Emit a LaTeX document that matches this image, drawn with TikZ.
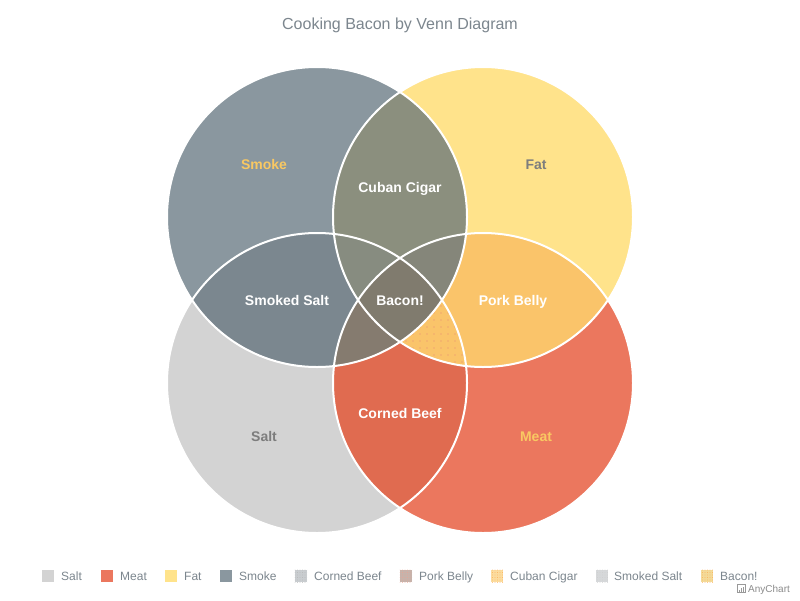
\documentclass[tikz,border=0pt]{standalone}
\usepackage{fontspec}
\setmainfont{Liberation Sans}
\usetikzlibrary{patterns.meta}
\definecolor{cSmoke}{HTML}{8A979F}
\definecolor{cFat}{HTML}{FFE38B}
\definecolor{cSalt}{HTML}{D3D3D3}
\definecolor{cMeat}{HTML}{EB775E}
\definecolor{cCuban}{HTML}{8B8F7E}
\definecolor{cSmokedSalt}{HTML}{7B878F}
\definecolor{cPork}{HTML}{FAC46A}
\definecolor{cCorned}{HTML}{E06B50}
\definecolor{cSFS}{HTML}{878C80}
\definecolor{cSFM}{HTML}{85867A}
\definecolor{cSSM}{HTML}{857B6F}
\definecolor{cBacon}{HTML}{807B6E}
\definecolor{cTitle}{HTML}{7C868E}
\definecolor{cDarkLbl}{HTML}{7D7D7D}
\definecolor{cYelLbl}{HTML}{F9C862}
\definecolor{lgCorned}{HTML}{C9CDD0}
\definecolor{lgPork}{HTML}{C7B3AB}
\definecolor{lgCuban}{HTML}{FBDC9E}
\definecolor{lgSmokedSalt}{HTML}{D6D8DA}
\definecolor{lgBacon}{HTML}{F3DA98}
\def\Csmoke{(317,217) circle[radius=150]}
\def\Cfat{(483,217) circle[radius=150]}
\def\Csalt{(317,383) circle[radius=150]}
\def\Cmeat{(483,383) circle[radius=150]}
\tikzset{
  inlbl/.style={font=\bfseries\fontsize{14}{16}\selectfont, text=white, anchor=base, inner sep=0pt},
  outlbl/.style={font=\bfseries\fontsize{14}{16}\selectfont, anchor=base, inner sep=0pt},
  lgbox/.style={minimum width=12pt, minimum height=12pt, inner sep=0pt, draw=none},
  lgtext/.style={font=\fontsize{12}{14}\selectfont, text=cTitle, anchor=base west, inner sep=0pt},
}
\begin{document}
\begin{tikzpicture}[x=1pt,y=-1pt]
\useasboundingbox (0,0) rectangle (800,600);
\fill[white] (0,0) rectangle (800,600);
% single circles
\fill[cSmoke] \Csmoke;
\fill[cFat] \Cfat;
\fill[cSalt] \Csalt;
\fill[cMeat] \Cmeat;
% pairs
\begin{scope}
  \clip \Csmoke;
  \fill[cCuban] \Cfat;
  \fill[cSmokedSalt] \Csalt;
\end{scope}
\begin{scope}
  \clip \Cmeat;
  \fill[cPork] \Cfat;
  \fill[cCorned] \Csalt;
\end{scope}
% triples
\begin{scope}
  \clip \Csmoke; \clip \Cfat;
  \fill[cSFS] \Csalt;
  \fill[cSFM] \Cmeat;
\end{scope}
\begin{scope}
  \clip \Csmoke; \clip \Csalt;
  \fill[cSSM] \Cmeat;
\end{scope}
\begin{scope}
  \clip \Cfat; \clip \Csalt;
  \fill[cPork] \Cmeat;
  \fill[pattern={Dots[distance=7pt, radius=0.55pt]}, pattern color=cCorned!80] \Cmeat;
\end{scope}
% all four
\begin{scope}
  \clip \Csmoke; \clip \Cfat; \clip \Csalt;
  \fill[cBacon] \Cmeat;
\end{scope}
% outlines
\draw[white, line width=2pt] \Csmoke \Cfat \Csalt \Cmeat;
% title
\node[font=\fontsize{16}{18}\selectfont, text=cTitle, anchor=base, inner sep=0pt] (title) at (400,29) {Cooking Bacon by Venn Diagram};
% labels
\node[outlbl, text=cYelLbl] (lsmoke) at (264,169) {Smoke};
\node[outlbl, text=cDarkLbl] (lfat) at (536,169) {Fat};
\node[outlbl, text=cDarkLbl] (lsalt) at (264,441) {Salt};
\node[outlbl, text=cYelLbl] (lmeat) at (536,441) {Meat};
\node[inlbl] (lcuban) at (400,192) {Cuban Cigar};
\node[inlbl] (lsmokedsalt) at (287,305) {Smoked Salt};
\node[inlbl] (lpork) at (513,305) {Pork Belly};
\node[inlbl] (lcorned) at (400,418) {Corned Beef};
\node[inlbl] (lbacon) at (400,305) {Bacon!};
% legend
\node[lgbox, fill=cSalt] (b1) at (48,576) {};
\node[lgtext] (t1) at (61,580.5) {Salt};
\node[lgbox, fill=cMeat] (b2) at (107,576) {};
\node[lgtext] (t2) at (120,580.5) {Meat};
\node[lgbox, fill=cFat] (b3) at (171,576) {};
\node[lgtext] (t3) at (184,580.5) {Fat};
\node[lgbox, fill=cSmoke] (b4) at (226,576) {};
\node[lgtext] (t4) at (239,580.5) {Smoke};
\node[lgbox, fill=lgCorned] (b5) at (301,576) {};
\node[lgtext] (t5) at (314,580.5) {Corned Beef};
\node[lgbox, fill=lgPork] (b6) at (406,576) {};
\node[lgtext] (t6) at (419,580.5) {Pork Belly};
\node[lgbox, fill=lgCuban] (b7) at (497,576) {};
\node[lgtext] (t7) at (510,580.5) {Cuban Cigar};
\node[lgbox, fill=lgSmokedSalt] (b8) at (602,576) {};
\node[lgtext] (t8) at (614,580.5) {Smoked Salt};
\node[lgbox, fill=lgBacon] (b9) at (707,576) {};
\node[lgtext] (t9) at (720,580.5) {Bacon!};
\foreach \b/\c in {b5/gray!60, b6/cMeat!70, b7/orange!70, b8/gray!40, b9/orange!70}{
  \fill[pattern={Dots[distance=2.5pt, radius=0.4pt]}, pattern color=\c] (\b.south west) rectangle (\b.north east);
}
% AnyChart credit
\draw[gray!80, line width=0.6pt] (737.5,584.5) rectangle (745.5,592.5);
\fill[gray!80] (739,592) rectangle (740,590);
\fill[gray!80] (741,592) rectangle (742,588);
\fill[gray!80] (743,592) rectangle (744,586.5);
\node[font=\fontsize{10}{12}\selectfont, text=gray!90, anchor=base west, inner sep=0pt] (anychart) at (748,592.5) {AnyChart};
\end{tikzpicture}
\end{document}
